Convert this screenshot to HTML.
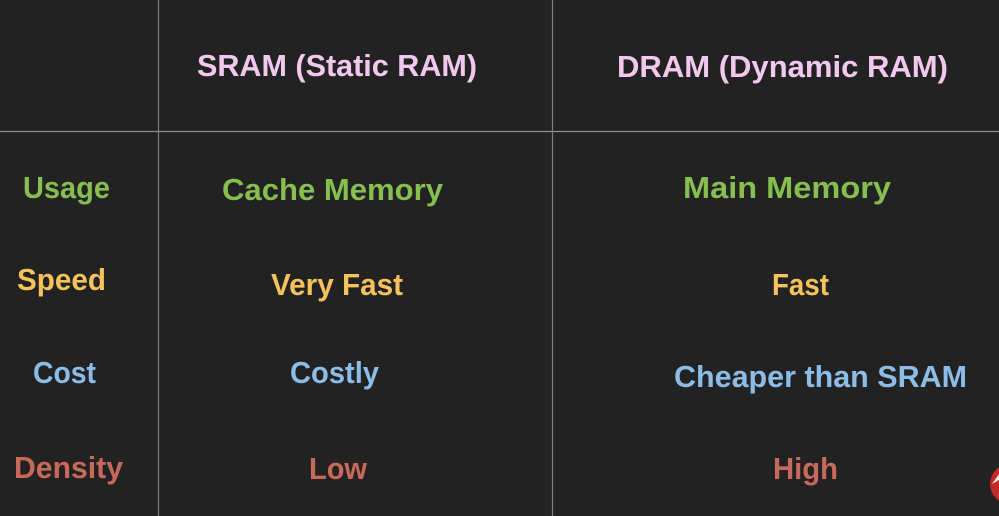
<!DOCTYPE html>
<html><head><style>
html,body{margin:0;padding:0;background:#222222;}
svg{display:block}
text{font-family:"Liberation Sans",sans-serif;font-weight:bold;font-size:31px;}
</style></head><body>
<svg width="999" height="516" viewBox="0 0 999 516">
<rect width="999" height="516" fill="#222222"/>
<line x1="0" y1="131.5" x2="999" y2="131.5" stroke="#8f8f8f" stroke-width="1.2"/>
<line x1="158.5" y1="0" x2="158.5" y2="516" stroke="#7f7f7f" stroke-width="1.2"/>
<line x1="552.5" y1="0" x2="552.5" y2="516" stroke="#7f7f7f" stroke-width="1.2"/>
<g fill="#f2c8ef">
<text x="197" y="76" textLength="280" lengthAdjust="spacingAndGlyphs">SRAM (Static RAM)</text>
<text x="617" y="77" textLength="331" lengthAdjust="spacingAndGlyphs">DRAM (Dynamic RAM)</text>
</g>
<g fill="#86bf4f">
<text x="23" y="198" textLength="87" lengthAdjust="spacingAndGlyphs">Usage</text>
<text x="222" y="200" textLength="221" lengthAdjust="spacingAndGlyphs">Cache Memory</text>
<text x="683" y="198" textLength="208" lengthAdjust="spacingAndGlyphs">Main Memory</text>
</g>
<g fill="#f5c25c">
<text x="17" y="290" textLength="89" lengthAdjust="spacingAndGlyphs">Speed</text>
<text x="271" y="295" textLength="132" lengthAdjust="spacingAndGlyphs">Very Fast</text>
<text x="772" y="295" textLength="57" lengthAdjust="spacingAndGlyphs">Fast</text>
</g>
<g fill="#8cbde8">
<text x="33" y="383" textLength="63" lengthAdjust="spacingAndGlyphs">Cost</text>
<text x="290" y="383" textLength="89" lengthAdjust="spacingAndGlyphs">Costly</text>
<text x="674" y="387" textLength="293" lengthAdjust="spacingAndGlyphs">Cheaper than SRAM</text>
</g>
<g fill="#c8695c">
<text x="14" y="478" textLength="109" lengthAdjust="spacingAndGlyphs">Density</text>
<text x="309" y="479" textLength="58" lengthAdjust="spacingAndGlyphs">Low</text>
<text x="773" y="479" textLength="65" lengthAdjust="spacingAndGlyphs">High</text>
</g>
<circle cx="1010" cy="484" r="20" fill="#c62828"/>
<path d="M992 484 L999 474 L999 480 Z" fill="#eee"/>
</svg>
</body></html>
